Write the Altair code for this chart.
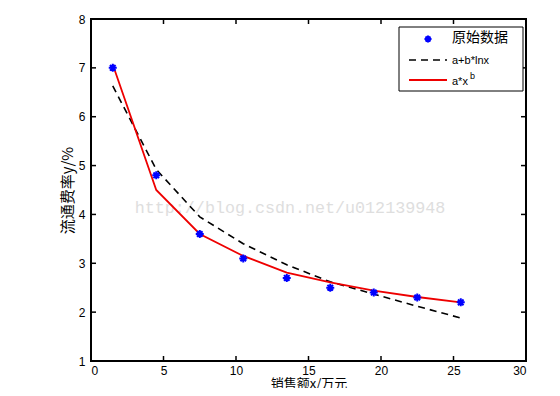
import altair as alt
import pandas as pd

x_vals = [1.5, 4.5, 7.5, 10.5, 13.5, 16.5, 19.5, 22.5, 25.5]
y_data = [7.0, 4.8, 3.6, 3.1, 2.7, 2.5, 2.4, 2.3, 2.2]
y_log = [6.63, 4.92, 3.95, 3.40, 2.97, 2.62, 2.37, 2.12, 1.88]
y_pow = [7.07, 4.50, 3.60, 3.15, 2.81, 2.61, 2.44, 2.31, 2.20]
x_ticks = [0, 5, 10, 15, 20, 25, 30]
y_ticks = [1, 2, 3, 4, 5, 6, 7, 8]

W, H = 435, 342
FONT = "Liberation Sans"
CJK = "Noto Sans CJK SC"

df = pd.DataFrame({"x": x_vals, "data": y_data, "log": y_log, "pow": y_pow})
xt = pd.DataFrame({"t": x_ticks})
yt = pd.DataFrame({"t": y_ticks})

xs = alt.Scale(domain=[0, 30], nice=False)
ys = alt.Scale(domain=[1, 8], nice=False)

base = alt.Chart(df)

x_enc = alt.X("x:Q", scale=xs, axis=alt.Axis(
    values=x_ticks, tickSize=0, labelPadding=4, domain=False, grid=False,
    title="销售额x/万元", titleFont=CJK, titleFontSize=13, titleFontWeight="normal",
    titlePadding=1, labelFont=FONT, labelFontSize=12, labelColor="black", titleColor="black"))
y_enc = alt.Y("log:Q", scale=ys, axis=alt.Axis(
    values=y_ticks, tickSize=0, labelPadding=6, domain=False, grid=False,
    title="流通费率y/%", titleFont=CJK, titleFontSize=15, titleFontWeight="normal",
    titlePadding=3, labelFont=FONT, labelFontSize=12, labelColor="black", titleColor="black"))

line_log = base.mark_line(color="black", strokeDash=[7, 5], strokeWidth=1.6).encode(x=x_enc, y=y_enc)
line_pow = base.mark_line(color="#ee0000", strokeWidth=1.8).encode(
    x=alt.X("x:Q", scale=xs), y=alt.Y("pow:Q", scale=ys))
star = "M-1,0L1,0M0,-1L0,1M-0.7,-0.7L0.7,0.7M-0.7,0.7L0.7,-0.7"
pts = base.mark_point(shape=star, filled=False, color="#0000ff", strokeWidth=2, size=64, opacity=1).encode(
    x=alt.X("x:Q", scale=xs), y=alt.Y("data:Q", scale=ys))

tk = 5
tick_b = alt.Chart(xt).mark_rule(color="black", strokeWidth=1.5).encode(
    x=alt.X("t:Q", scale=xs), y=alt.value(H), y2=alt.value(H - tk))
tick_t = alt.Chart(xt).mark_rule(color="black", strokeWidth=1.5).encode(
    x=alt.X("t:Q", scale=xs), y=alt.value(0), y2=alt.value(tk))
tick_l = alt.Chart(yt).mark_rule(color="black", strokeWidth=1.5).encode(
    y=alt.Y("t:Q", scale=ys), x=alt.value(0), x2=alt.value(tk))
tick_r = alt.Chart(yt).mark_rule(color="black", strokeWidth=1.5).encode(
    y=alt.Y("t:Q", scale=ys), x=alt.value(W), x2=alt.value(W - tk))

watermark = alt.Chart(pd.DataFrame({"s": ["http://blog.csdn.net/u012139948"]})).mark_text(
    font="Liberation Mono", fontSize=16.7, color="#dedede", align="center", baseline="middle").encode(
    text="s:N", x=alt.value(199), y=alt.value(189))

# legend (top right box)
lx0, ly0, lx1, ly1 = 308, 8, 432, 72
leg_box = alt.Chart(pd.DataFrame({"a": [0]})).mark_rect(fill="white", stroke="black", strokeWidth=1).encode(
    x=alt.value(lx0), x2=alt.value(lx1), y=alt.value(ly0), y2=alt.value(ly1))
leg_pt = alt.Chart(pd.DataFrame({"a": [0]})).mark_point(shape=star, filled=False, color="#0000ff", strokeWidth=2, size=50, opacity=1).encode(
    x=alt.value(lx0 + 29), y=alt.value(ly0 + 12))
leg_l1 = alt.Chart(pd.DataFrame({"a": [0]})).mark_rule(color="black", strokeDash=[7, 5], strokeWidth=1.6).encode(
    x=alt.value(lx0 + 10), x2=alt.value(lx0 + 48), y=alt.value(ly0 + 33))
leg_l2 = alt.Chart(pd.DataFrame({"a": [0]})).mark_rule(color="#ee0000", strokeWidth=1.8).encode(
    x=alt.value(lx0 + 10), x2=alt.value(lx0 + 48), y=alt.value(ly0 + 53))
leg_t1 = alt.Chart(pd.DataFrame({"s": ["原始数据"]})).mark_text(
    font=CJK, fontSize=14, align="left", baseline="middle", color="black").encode(
    text="s:N", x=alt.value(lx0 + 53), y=alt.value(ly0 + 11))
leg_t2 = alt.Chart(pd.DataFrame({"s": ["a+b*lnx"]})).mark_text(
    font=FONT, fontSize=11, align="left", baseline="middle", color="black").encode(
    text="s:N", x=alt.value(lx0 + 53), y=alt.value(ly0 + 34))
leg_t3 = alt.Chart(pd.DataFrame({"s": ["a*x"]})).mark_text(
    font=FONT, fontSize=11, align="left", baseline="middle", color="black").encode(
    text="s:N", x=alt.value(lx0 + 53), y=alt.value(ly0 + 55))
leg_t4 = alt.Chart(pd.DataFrame({"s": ["b"]})).mark_text(
    font=FONT, fontSize=9, align="left", baseline="middle", color="black").encode(
    text="s:N", x=alt.value(lx0 + 71), y=alt.value(ly0 + 49))

chart = alt.layer(
    watermark, line_log, line_pow, pts,
    tick_b, tick_t, tick_l, tick_r,
    leg_box, leg_pt, leg_l1, leg_l2, leg_t1, leg_t2, leg_t3, leg_t4,
).properties(
    width=W, height=H, autosize="none",
    padding={"left": 83, "top": 11, "right": 26, "bottom": 27},
    background="white",
).configure_view(stroke="black", strokeWidth=2)

chart.save("out.html", embed_options={"renderer": "svg", "actions": False})
